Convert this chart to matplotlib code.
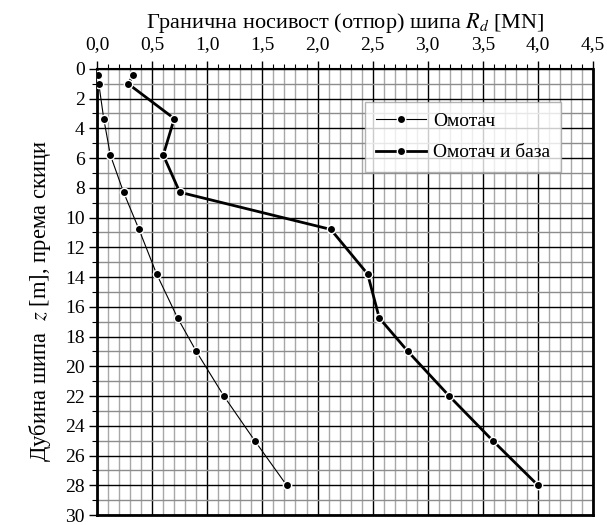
import matplotlib
matplotlib.use('Agg')
import matplotlib.pyplot as plt
from matplotlib.ticker import MultipleLocator, FuncFormatter

plt.rcParams['font.family'] = ['Liberation Serif', 'DejaVu Serif']
plt.rcParams['mathtext.fontset'] = 'stix'

# дубина [m]
depth = [0.45, 1.0, 3.35, 5.8, 8.3, 10.8, 13.8, 16.75, 19.0, 22.0, 25.0, 28.0]
# носивост [MN]
omotac = [0.01, 0.015, 0.06, 0.12, 0.24, 0.38, 0.54, 0.73, 0.90, 1.15, 1.43, 1.72]
omotac_baza = [0.33, 0.28, 0.70, 0.60, 0.75, 2.12, 2.455, 2.56, 2.82, 3.195, 3.59, 4.0]

labels = ['Омотач', 'Омотач и база']

fig = plt.figure(figsize=(6.07, 5.25), dpi=100)
ax = fig.add_axes([0.160, 0.019, 0.817, 0.850])

ax.plot(omotac, depth, '-o', color='black', lw=0.8, ms=6,
        mec='white', mew=1.0, label=labels[0], zorder=5)
ax.plot(omotac_baza, depth, '-o', color='black', lw=2.0, ms=6,
        mec='white', mew=1.0, label=labels[1], zorder=5)

ax.set_xlim(0, 4.5)
ax.set_ylim(30, 0)

ax.xaxis.set_major_locator(MultipleLocator(0.5))
ax.xaxis.set_minor_locator(MultipleLocator(0.1))
ax.yaxis.set_major_locator(MultipleLocator(2))
ax.yaxis.set_minor_locator(MultipleLocator(1))
ax.xaxis.set_major_formatter(FuncFormatter(lambda v, p: f'{v:.1f}'.replace('.', ',')))
ax.yaxis.set_major_formatter(FuncFormatter(lambda v, p: f'{v:.0f}'))

ax.xaxis.tick_top()
ax.xaxis.set_label_position('top')
ax.tick_params(axis='both', which='major', labelsize=14, direction='out',
               length=6, width=1.0, color='black')
ax.tick_params(axis='both', which='minor', direction='out', length=3.5,
               width=0.8, color='black')
ax.tick_params(axis='x', pad=5)
ax.tick_params(axis='y', pad=3)

ax.grid(True, which='major', color='black', lw=1.0)
ax.grid(True, which='minor', axis='x', color='#a8a8a8', lw=1.0)
ax.grid(True, which='minor', axis='y', color='#8c8c8c', lw=1.0)
ax.set_axisbelow(True)

for s in ['left', 'bottom', 'right']:
    ax.spines[s].set_linewidth(2.0)
ax.spines['top'].set_linewidth(1.5)

ax.set_xlabel('Гранична носивост (отпор) шипа $R_d$ [MN]', fontsize=16, labelpad=6)
ax.set_ylabel('Дубина шипа  $z$ [m], према скици', fontsize=16.3)
ax.yaxis.set_label_coords(-0.088, 0.48)

leg = ax.legend(loc='center', bbox_to_anchor=(0.738, 0.847), fontsize=14,
                frameon=True, fancybox=False, edgecolor='#a0a0a0',
                handlelength=2.6, borderpad=0.55, labelspacing=0.7,
                handletextpad=0.35, borderaxespad=0)
leg.get_frame().set_linewidth(1.0)
leg.set_zorder(10)

fig.savefig('out.png', dpi=100)
